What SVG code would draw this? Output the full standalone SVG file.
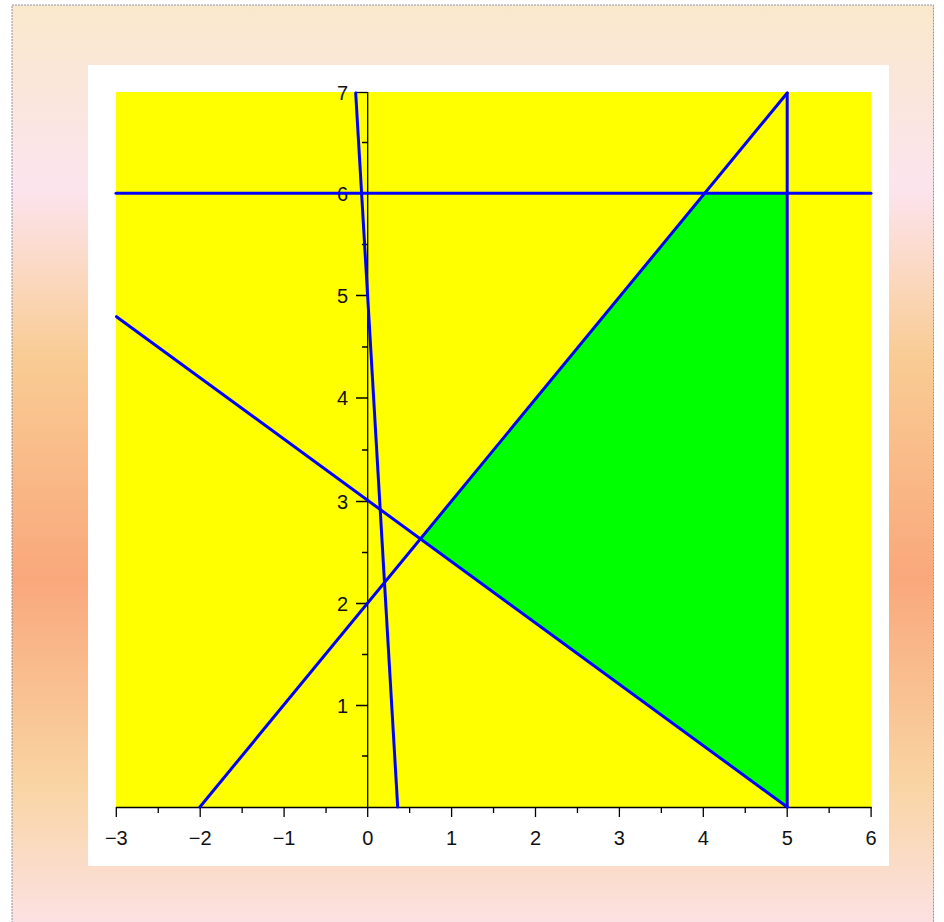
<svg xmlns="http://www.w3.org/2000/svg" width="944" height="922" viewBox="0 0 944 922">
<defs>
<linearGradient id="bg" x1="0" y1="0" x2="0" y2="1">
<stop offset="0" stop-color="#FAE8CC"/>
<stop offset="0.2" stop-color="#FCE4EE"/>
<stop offset="0.38" stop-color="#F9CC94"/>
<stop offset="0.62" stop-color="#F9A87C"/>
<stop offset="0.84" stop-color="#F9D4A2"/>
<stop offset="1" stop-color="#FCE2E6"/>
</linearGradient>
<style>
.ax{stroke:#000;stroke-width:1.3;fill:none}
.bl{stroke:#0000FF;stroke-width:3;fill:none;stroke-linecap:round}
.lb{font-family:"Liberation Sans",Arial,sans-serif;font-size:20px;fill:#111}
.xl{text-anchor:middle}
.yl{text-anchor:end}
</style>
</defs>
<rect x="0" y="0" width="944" height="922" fill="#fff"/>
<rect x="12" y="5" width="921.5" height="925" fill="url(#bg)" stroke="#8a95a8" stroke-width="1" stroke-dasharray="2,1"/>
<rect x="88" y="65" width="801" height="801" fill="#fff"/>
<rect x="116" y="92" width="755.5" height="715" fill="#FFFF00"/>
<g id="region">
<polygon points="420.1,538.9 704.3,193.3 787.2,193.3 787.2,807" fill="#00FF00"/>
</g>
<g id="axes">
<line class="ax" x1="116" y1="807.5" x2="871.5" y2="807.5"/>
<line class="ax" x1="367.7" y1="92" x2="367.7" y2="807.5"/>
<line class="ax" x1="355" y1="92.5" x2="367.7" y2="92.5"/>
<path class="ax" d="M116.3,807V817 M158.25,807V813 M200.2,807V817 M242.15,807V813 M284.1,807V817 M326.05,807V813 M367.7,807V817 M409.65,807V813 M451.6,807V817 M493.55,807V813 M535.5,807V817 M577.45,807V813 M619.4,807V817 M661.35,807V813 M703.3,807V817 M745.25,807V813 M787.2,807V817 M829.15,807V813 M871.1,807V817"/>
<path class="ax" d="M356,705.5H367.7 M362,756H367.7 M356,603.5H367.7 M362,654.5H367.7 M356,501.5H367.7 M362,552.5H367.7 M356,398H367.7 M362,450H367.7 M356,295.5H367.7 M362,347H367.7 M356,193.3H367.7 M362,244.5H367.7 M362,142.5H367.7"/>
</g>
<g id="labels" class="lb">
<text class="xl" x="116.3" y="845">−3</text>
<text class="xl" x="200.2" y="845">−2</text>
<text class="xl" x="284.1" y="845">−1</text>
<text class="xl" x="367.7" y="845">0</text>
<text class="xl" x="451.6" y="845">1</text>
<text class="xl" x="535.5" y="845">2</text>
<text class="xl" x="619.4" y="845">3</text>
<text class="xl" x="703.3" y="845">4</text>
<text class="xl" x="787.2" y="845">5</text>
<text class="xl" x="871.1" y="845">6</text>
<text class="yl" x="348" y="712.5">1</text>
<text class="yl" x="348" y="610.5">2</text>
<text class="yl" x="348" y="508.5">3</text>
<text class="yl" x="348" y="405">4</text>
<text class="yl" x="348" y="302.5">5</text>
<text class="yl" x="348" y="200.5">6</text>
<text class="yl" x="348" y="99.5">7</text>
</g>
<g id="connectors">
<line class="bl" x1="116" y1="193.3" x2="871" y2="193.3"/>
<line class="bl" x1="787.2" y1="93" x2="787.2" y2="807"/>
<line class="bl" x1="199.9" y1="807" x2="787.2" y2="93"/>
<line class="bl" x1="116.5" y1="316.7" x2="787.2" y2="807"/>
<line class="bl" x1="355.7" y1="93" x2="397.7" y2="807"/>
</g>
</svg>
